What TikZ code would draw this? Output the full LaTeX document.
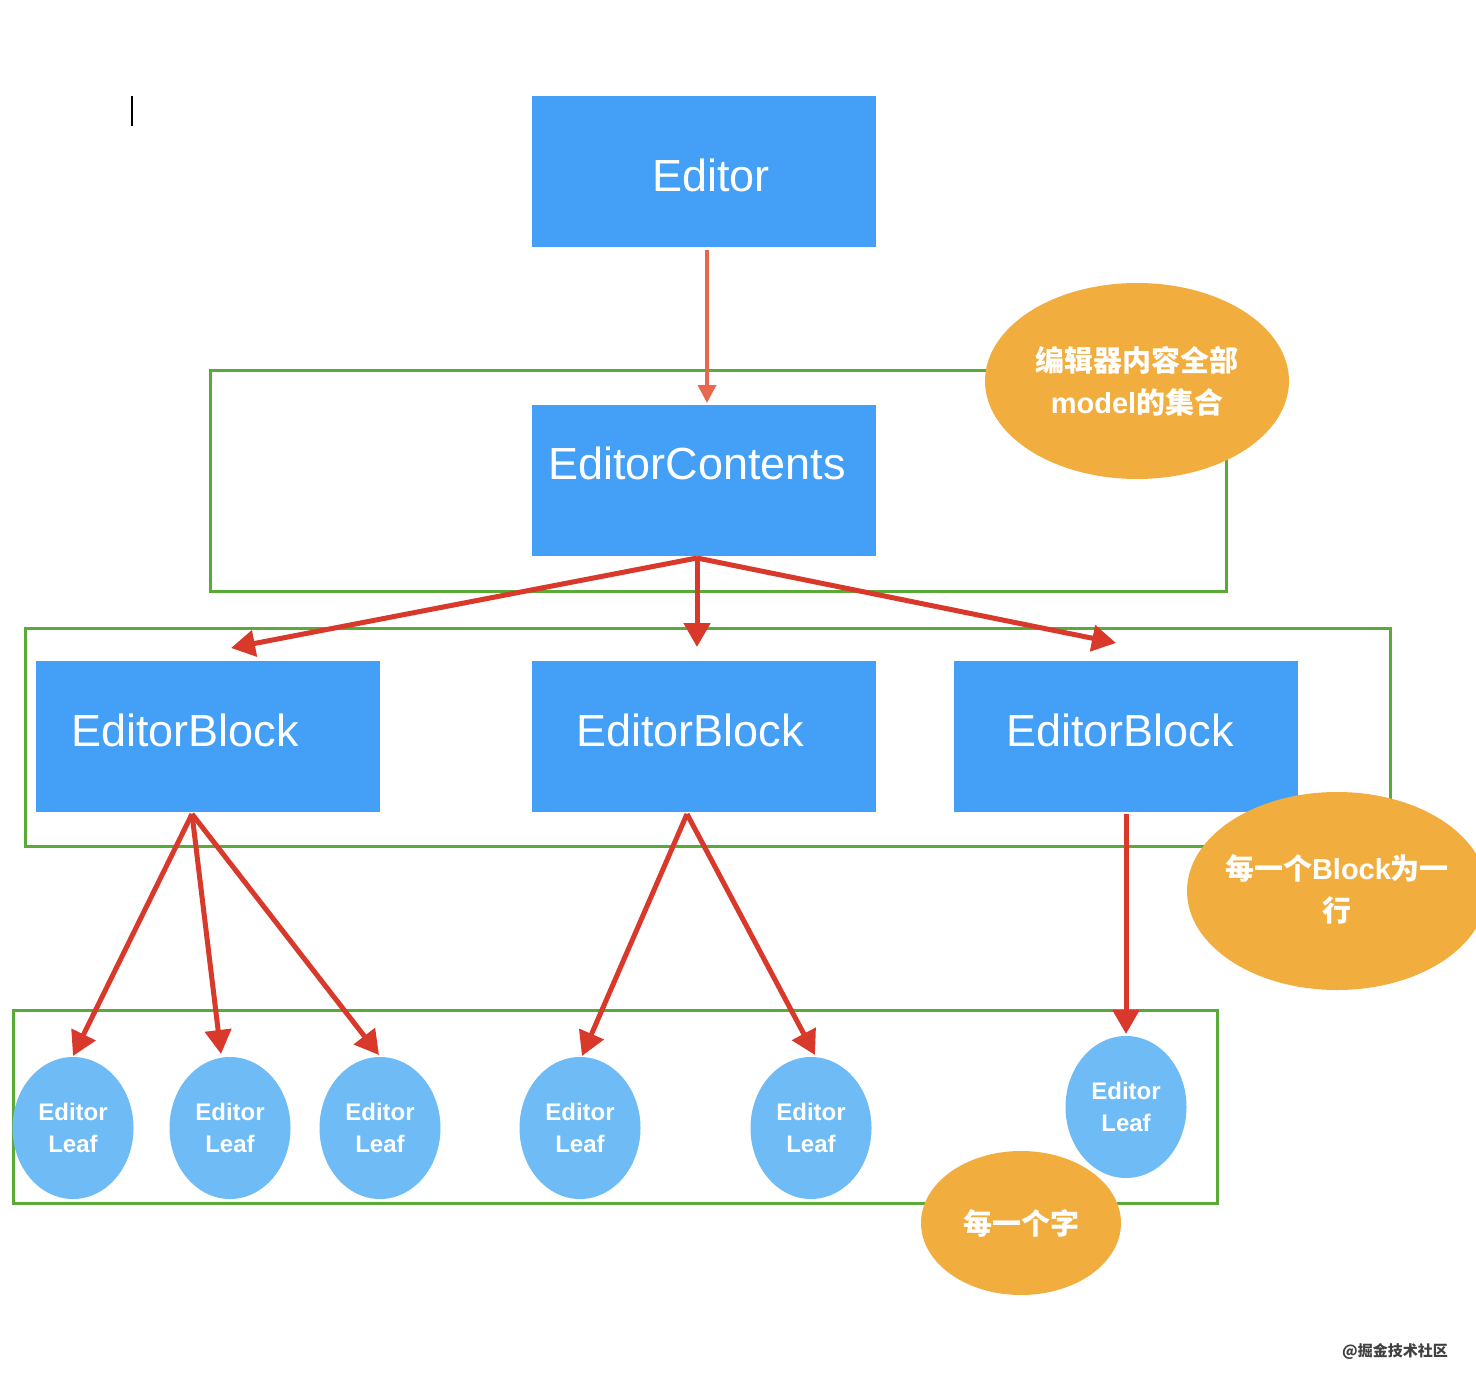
\documentclass[tikz,border=0pt]{standalone}
\usepackage{fontspec}
\setmainfont{Liberation Sans}
\newfontfamily\cjk{Noto Sans CJK SC}
\usetikzlibrary{arrows.meta,shapes.geometric}
\definecolor{boxblue}{HTML}{44A0F6}
\definecolor{leafblue}{HTML}{6EBBF6}
\definecolor{noteorange}{HTML}{F1AE3F}
\definecolor{framegreen}{HTML}{5AAA38}
\definecolor{arrowred}{HTML}{D9392A}
\definecolor{toparrow}{HTML}{E9674F}
\tikzset{
  bluebox/.style={fill=boxblue, draw=none, minimum width=344pt, minimum height=151pt, inner sep=0pt},
  boxtext/.style={text=white, font=\fontsize{45}{50}\selectfont, inner sep=0pt},
  frame/.style={draw=framegreen, line width=3pt},
  leaf/.style={ellipse, fill=leafblue, draw=none, minimum width=121pt, minimum height=142pt, inner sep=0pt,
    text=white, align=center, font=\bfseries\fontsize{24}{32}\selectfont},
  note/.style={ellipse, fill=noteorange, draw=none, inner sep=0pt},
  notetext/.style={text=white, align=center, inner sep=0pt, font=\bfseries\fontsize{29}{42}\selectfont},
  redarrow/.style={draw=arrowred, line width=5pt, -{Triangle[length=24pt,width=26pt]}},
  toparrowstyle/.style={draw=toparrow, line width=3.5pt, -{Triangle[length=18pt,width=18pt]}}
}
\begin{document}
\begin{tikzpicture}[x=1pt,y=-1pt]
\useasboundingbox[fill=white] (0,0) rectangle (1476,1386);
\clip (0,0) rectangle (1476,1386);
% cursor
\draw[line width=2pt] (132,96) coordinate (cur1) -- (132,126) coordinate (cur2);
% green frames
\draw[frame] (210,370) rectangle (1226,591);
\draw[frame] (25,628) rectangle (1390,846);
\draw[frame] (13,1010) rectangle (1217,1203);
% boxes
\node[bluebox] (editor) at (704,171.5) {};
\node[boxtext] (editort) at (711,175) {Editor};
\node[bluebox] (ec) at (704,480.5) {};
\node[boxtext] (ect) at (697,463) {EditorContents};
\node[bluebox] (b1) at (208,736.5) {};
\node[boxtext] (b1t) at (185,730) {EditorBlock};
\node[bluebox] (b2) at (704,736.5) {};
\node[boxtext] (b2t) at (690,730) {EditorBlock};
\node[bluebox] (b3) at (1125.5,736.5) {};
\node[boxtext] (b3t) at (1120,730) {EditorBlock};
% leaves
\node[leaf] (l1) at (73,1128) {Editor\\Leaf};
\node[leaf] (l2) at (230,1128) {Editor\\Leaf};
\node[leaf] (l3) at (380,1128) {Editor\\Leaf};
\node[leaf] (l4) at (580,1128) {Editor\\Leaf};
\node[leaf] (l5) at (811,1128) {Editor\\Leaf};
\node[leaf] (l6) at (1126,1107) {Editor\\Leaf};
% connector points
\coordinate (s0) at (707,250);
\coordinate (t0) at (707,403);
\coordinate (s1) at (697,558);
\coordinate (t11) at (231,648);
\coordinate (t12) at (697,647);
\coordinate (t13) at (1116,643);
\coordinate (s2) at (192,814);
\coordinate (t21) at (73,1056);
\coordinate (t22) at (221,1054);
\coordinate (t23) at (379,1055);
\coordinate (s3) at (687,814);
\coordinate (t31) at (582,1056);
\coordinate (t32) at (815,1055);
\coordinate (s4) at (1126,814);
\coordinate (t41) at (1126,1034);
% arrows
\draw[toparrowstyle] (s0) -- (t0);
\draw[redarrow] (s1) -- (t11);
\draw[redarrow] (s1) -- (t12);
\draw[redarrow] (s1) -- (t13);
\draw[redarrow] (s2) -- (t21);
\draw[redarrow] (s2) -- (t22);
\draw[redarrow] (s2) -- (t23);
\draw[redarrow] (s3) -- (t31);
\draw[redarrow] (s3) -- (t32);
\draw[redarrow] (s4) -- (t41);
% notes
\node[note, minimum width=304pt, minimum height=196pt] (n1) at (1137,381) {};
\node[notetext] (n1t) at (1137,381) {{\cjk 编辑器内容全部}\\model{\cjk 的集合}};
\node[note, minimum width=300pt, minimum height=198pt] (n2) at (1337,891) {};
\node[notetext] (n2t) at (1337,889) {{\cjk 每一个}Block{\cjk 为一}\\{\cjk 行}};
\node[note, minimum width=200pt, minimum height=144pt] (n3) at (1021,1223) {};
\node[notetext] (n3t) at (1021,1223) {{\cjk 每一个字}};
% watermark
\node[text=black!75, font=\cjk\bfseries\fontsize{15}{15}\selectfont, inner sep=0pt] (wm) at (1395,1351) {@掘金技术社区};
\end{tikzpicture}
\end{document}
